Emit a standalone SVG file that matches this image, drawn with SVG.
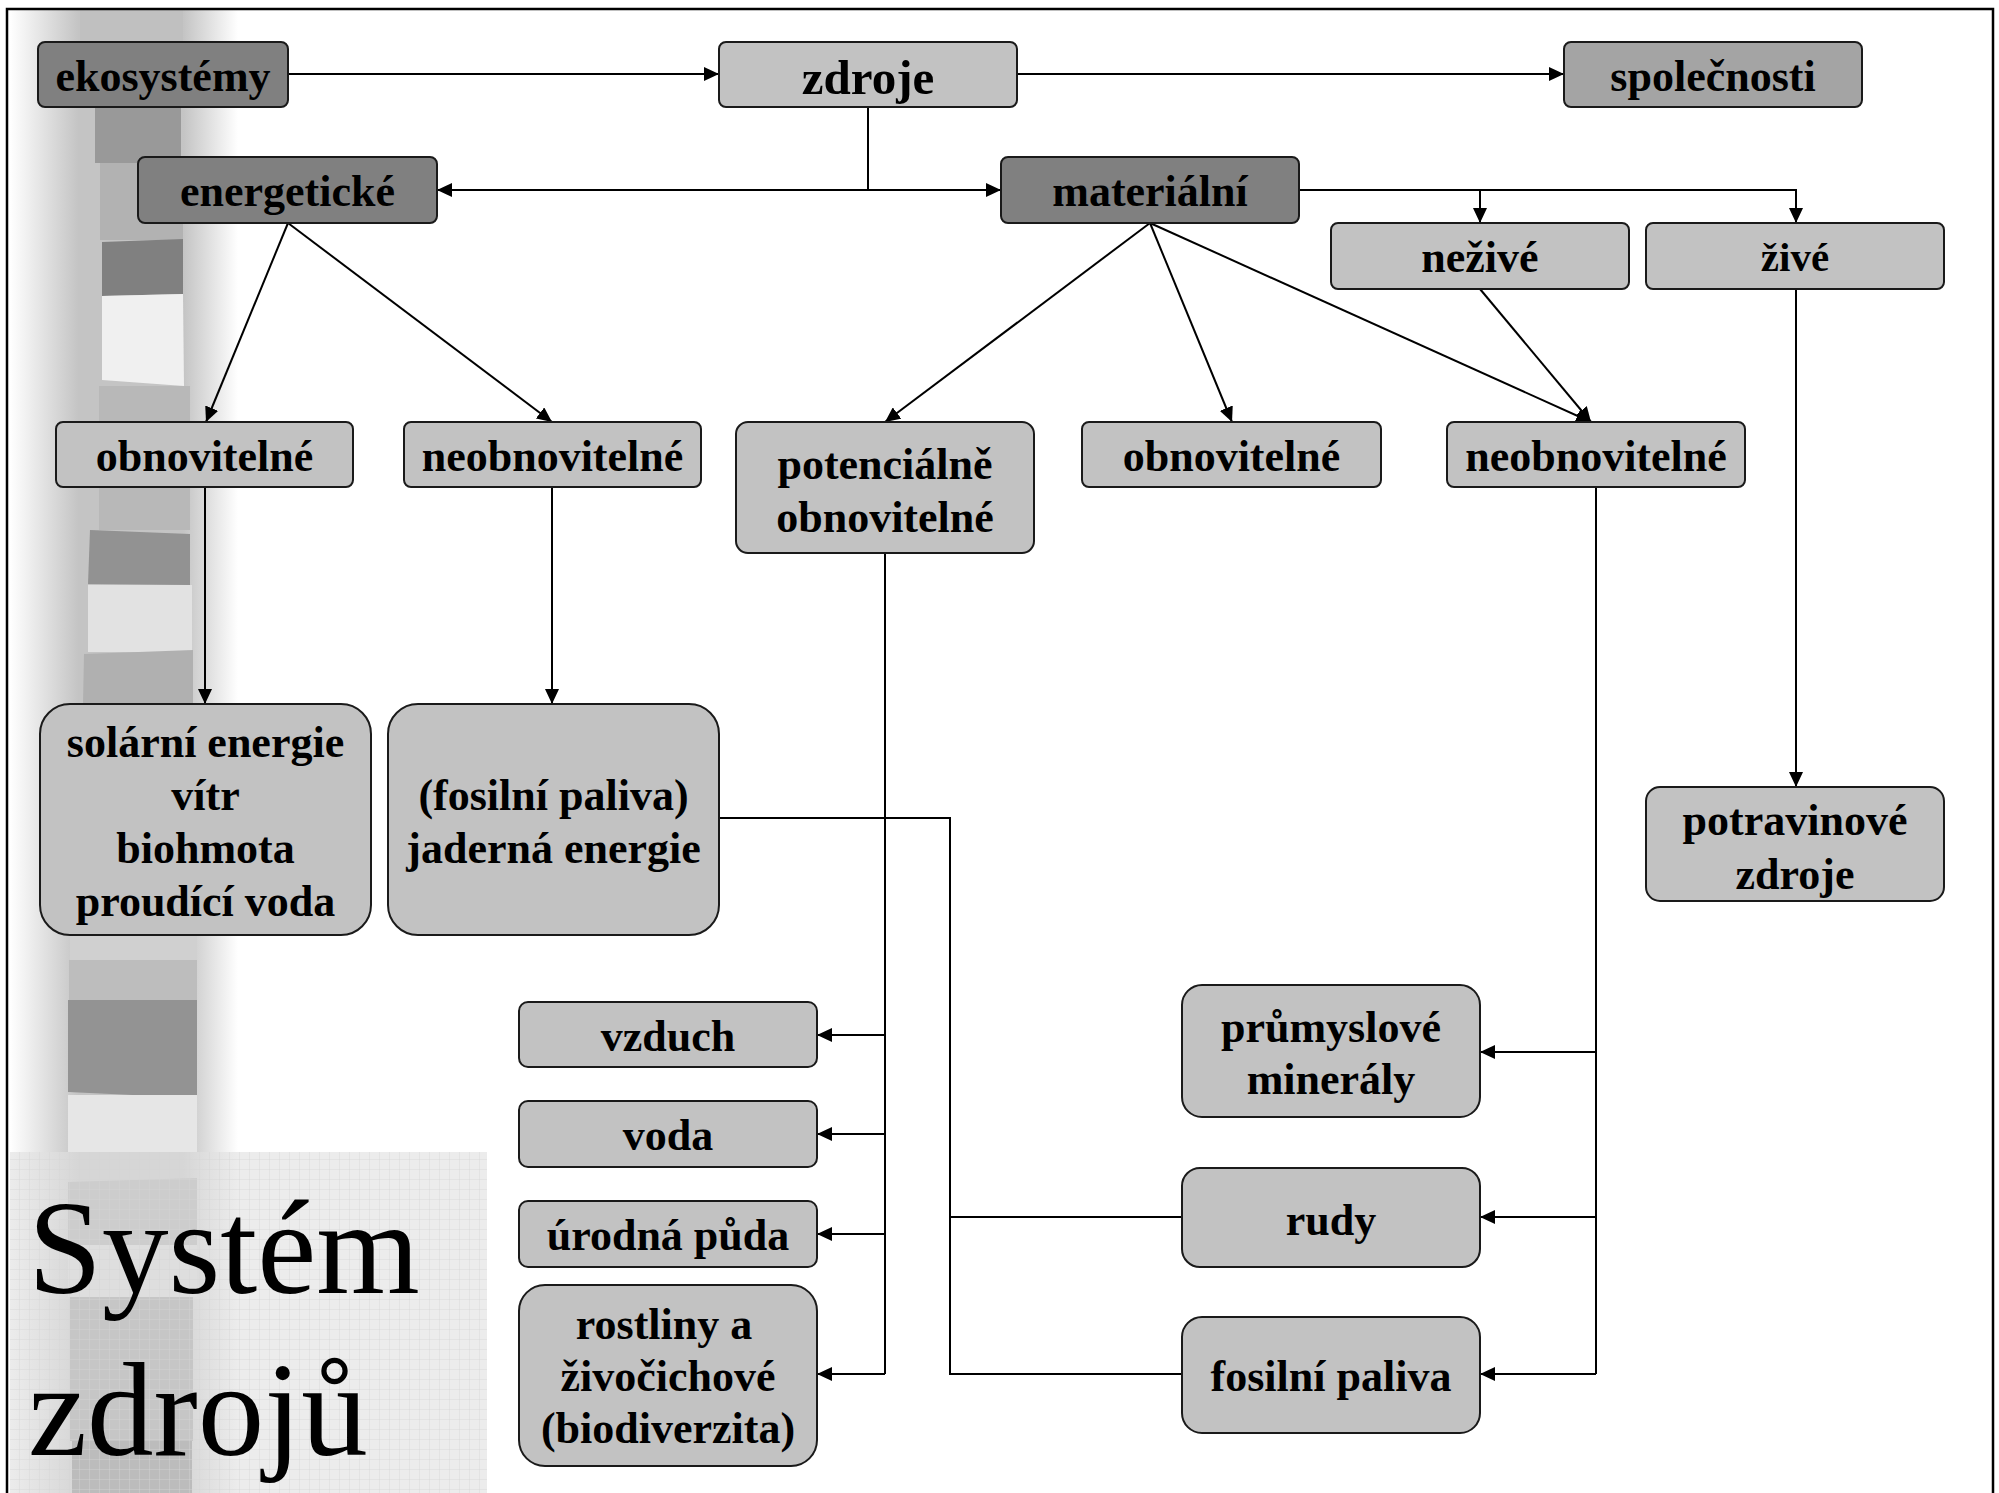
<svg xmlns="http://www.w3.org/2000/svg" width="1999" height="1493" viewBox="0 0 1999 1493">
<defs>
<style>
.box{stroke:#1a1a1a;stroke-width:2}
.dark{fill:#808080}
.mid{fill:#a4a4a4}
.light{fill:#c2c2c2}
.t{font-family:"Liberation Serif","Times New Roman",serif;font-weight:bold;font-size:44px;text-anchor:middle;fill:#000}
.c{fill:none;stroke:#000;stroke-width:2}
.a{marker-end:url(#arr)}
</style>
<marker id="arr" markerUnits="userSpaceOnUse" markerWidth="16" markerHeight="14" refX="15" refY="7" orient="auto">
<path d="M0,0 L15,7 L0,14 z" fill="#000"/>
</marker>
<linearGradient id="side" x1="0" y1="0" x2="1" y2="0">
<stop offset="0" stop-color="#ffffff"/>
<stop offset="0.3" stop-color="#c4c4c4"/>
<stop offset="0.76" stop-color="#c4c4c4"/>
<stop offset="1" stop-color="#ffffff"/>
</linearGradient>
<linearGradient id="sidefade" x1="0" y1="0" x2="1" y2="0">
<stop offset="0" stop-color="#ececec"/>
<stop offset="0.3" stop-color="#d6d6d6"/>
<stop offset="0.76" stop-color="#d6d6d6"/>
<stop offset="1" stop-color="#ececec"/>
</linearGradient>
<pattern id="gridlines" width="10" height="10" patternUnits="userSpaceOnUse">
<path d="M10,0 V10 M0,10 H10" stroke="#d4d4d4" stroke-width="1" fill="none" opacity="0.8"/>
</pattern>
</defs>
<rect width="1999" height="1493" fill="#ffffff"/>
<g id="background">
<rect x="10" y="10" width="228" height="1142" fill="url(#side)"/>
<rect x="80" y="10" width="103" height="32" fill="#c0c0c0"/>
<rect x="95" y="107" width="86" height="56" fill="#999999"/>
<rect x="100" y="163" width="83" height="77" fill="#b2b2b2"/>
<polygon points="102,242 183,239 183,294 102,296" fill="#808080"/>
<polygon points="102,296 183,294 184,386 102,380" fill="#f0f0f0"/>
<rect x="99" y="386" width="91" height="144" fill="#b8b8b8"/>
<polygon points="90,530 190,534 190,585 88,584" fill="#929292"/>
<rect x="88" y="585" width="104" height="67" fill="#e2e2e2"/>
<polygon points="84,654 193,650 193,704 83,704" fill="#b0b0b0"/>
<rect x="70" y="935" width="127" height="25" fill="#d0d0d0"/>
<rect x="69" y="960" width="128" height="40" fill="#bdbdbd"/>
<polygon points="68,1000 197,1000 197,1098 68,1092" fill="#939393"/>
<rect x="68" y="1095" width="129" height="57" fill="#e6e6e6"/>
<rect x="10" y="1152" width="477" height="341" fill="#ececec"/>
<rect x="10" y="1152" width="228" height="341" fill="url(#sidefade)"/>
<polygon points="68,1182 197,1178 197,1245 68,1245" fill="#cdcdcd"/>
<rect x="68" y="1245" width="129" height="52" fill="#dedede"/>
<rect x="70" y="1297" width="123" height="144" fill="#c6c6c6"/>
<rect x="72" y="1441" width="120" height="52" fill="#bcbcbc"/>
<rect x="10" y="1152" width="477" height="341" fill="url(#gridlines)"/>
<text x="28" y="1293" font-family="Liberation Serif, 'Times New Roman', serif" font-size="133" fill="#000">Systém</text>
<text x="28" y="1455" font-family="Liberation Serif, 'Times New Roman', serif" font-size="133" fill="#000">zdrojů</text>
</g>
<rect id="frame" x="7" y="9" width="1986" height="1500" fill="none" stroke="#000" stroke-width="2.5"/>
<g id="connectors">
<path class="c a" d="M288,74 H719"/>
<path class="c a" d="M1017,74 H1564"/>
<path class="c" d="M868,107 V190"/>
<path class="c a" d="M868,190 H437"/>
<path class="c a" d="M868,190 H1001"/>
<path class="c a" d="M1299,190 H1796 V223"/>
<path class="c a" d="M1480,190 V223"/>
<path class="c a" d="M288,223 L206,422"/>
<path class="c a" d="M288,223 L552,422"/>
<path class="c a" d="M1150,223 L885,422"/>
<path class="c a" d="M1150,223 L1232,422"/>
<path class="c a" d="M1150,223 L1591,422"/>
<path class="c a" d="M1480,289 L1591,422"/>
<path class="c a" d="M205,487 V704"/>
<path class="c a" d="M552,487 V704"/>
<path class="c a" d="M1796,289 V787"/>
<path class="c" d="M885,553 V1374"/>
<path class="c a" d="M885,1035 H817"/>
<path class="c a" d="M885,1134 H817"/>
<path class="c a" d="M885,1234 H817"/>
<path class="c a" d="M885,1374 H817"/>
<path class="c" d="M1596,487 V1374"/>
<path class="c a" d="M1596,1052 H1480"/>
<path class="c a" d="M1596,1217 H1480"/>
<path class="c a" d="M1596,1374 H1480"/>
<path class="c" d="M719,818 H950 V1374 H1182"/>
<path class="c" d="M950,1217 H1182"/>
</g>
<g id="n-ekosystemy"><rect class="box dark" x="38" y="42" width="250" height="65" rx="7"/><text class="t" x="163" y="91">ekosystémy</text></g>
<g id="n-zdroje"><rect class="box light" x="719" y="42" width="298" height="65" rx="7"/><text class="t" x="868" y="94" style="font-size:49px">zdroje</text></g>
<g id="n-spolecnosti"><rect class="box mid" x="1564" y="42" width="298" height="65" rx="7"/><text class="t" x="1713" y="91">společnosti</text></g>
<g id="n-energeticke"><rect class="box dark" x="138" y="157" width="299" height="66" rx="7"/><text class="t" x="287.5" y="206">energetické</text></g>
<g id="n-materialni"><rect class="box dark" x="1001" y="157" width="298" height="66" rx="7"/><text class="t" x="1150" y="206">materiální</text></g>
<g id="n-nezive"><rect class="box light" x="1331" y="223" width="298" height="66" rx="7"/><text class="t" x="1480" y="272">neživé</text></g>
<g id="n-zive"><rect class="box light" x="1646" y="223" width="298" height="66" rx="7"/><text class="t" x="1795" y="271" style="font-size:41px">živé</text></g>
<g id="n-obnovitelne-e"><rect class="box light" x="56" y="422" width="297" height="65" rx="7"/><text class="t" x="204.5" y="471">obnovitelné</text></g>
<g id="n-neobnovitelne-e"><rect class="box light" x="404" y="422" width="297" height="65" rx="7"/><text class="t" x="552.5" y="471">neobnovitelné</text></g>
<g id="n-potencialne"><rect class="box light" x="736" y="422" width="298" height="131" rx="12"/><text class="t" x="885" y="479">potenciálně</text><text class="t" x="885" y="532">obnovitelné</text></g>
<g id="n-obnovitelne-m"><rect class="box light" x="1082" y="422" width="299" height="65" rx="7"/><text class="t" x="1231.5" y="471">obnovitelné</text></g>
<g id="n-neobnovitelne-m"><rect class="box light" x="1447" y="422" width="298" height="65" rx="7"/><text class="t" x="1596" y="471">neobnovitelné</text></g>
<g id="n-solarni"><rect class="box light" x="40" y="704" width="331" height="231" rx="30"/><text class="t" x="205.5" y="757">solární energie</text><text class="t" x="205.5" y="810">vítr</text><text class="t" x="205.5" y="863">biohmota</text><text class="t" x="205.5" y="916">proudící voda</text></g>
<g id="n-fosilni-jaderna"><rect class="box light" x="388" y="704" width="331" height="231" rx="30"/><text class="t" x="553.5" y="810">(fosilní paliva)</text><text class="t" x="553.5" y="863">jaderná energie</text></g>
<g id="n-potravinove"><rect class="box light" x="1646" y="787" width="298" height="114" rx="14"/><text class="t" x="1795" y="835">potravinové</text><text class="t" x="1795" y="889">zdroje</text></g>
<g id="n-vzduch"><rect class="box light" x="519" y="1002" width="298" height="65" rx="9"/><text class="t" x="668" y="1051">vzduch</text></g>
<g id="n-voda"><rect class="box light" x="519" y="1101" width="298" height="66" rx="9"/><text class="t" x="668" y="1150">voda</text></g>
<g id="n-uprodna-puda"><rect class="box light" x="519" y="1201" width="298" height="66" rx="9"/><text class="t" x="668" y="1250">úrodná půda</text></g>
<g id="n-rostliny"><rect class="box light" x="519" y="1285" width="298" height="181" rx="26"/><text class="t" x="664" y="1339">rostliny a</text><text class="t" x="668" y="1391">živočichové</text><text class="t" x="668" y="1443">(biodiverzita)</text></g>
<g id="n-prumyslove"><rect class="box light" x="1182" y="985" width="298" height="132" rx="20"/><text class="t" x="1331" y="1042">průmyslové</text><text class="t" x="1331" y="1094">minerály</text></g>
<g id="n-rudy"><rect class="box light" x="1182" y="1168" width="298" height="99" rx="18"/><text class="t" x="1331" y="1235">rudy</text></g>
<g id="n-fosilni-paliva"><rect class="box light" x="1182" y="1317" width="298" height="116" rx="20"/><text class="t" x="1331" y="1391">fosilní paliva</text></g>
</svg>
